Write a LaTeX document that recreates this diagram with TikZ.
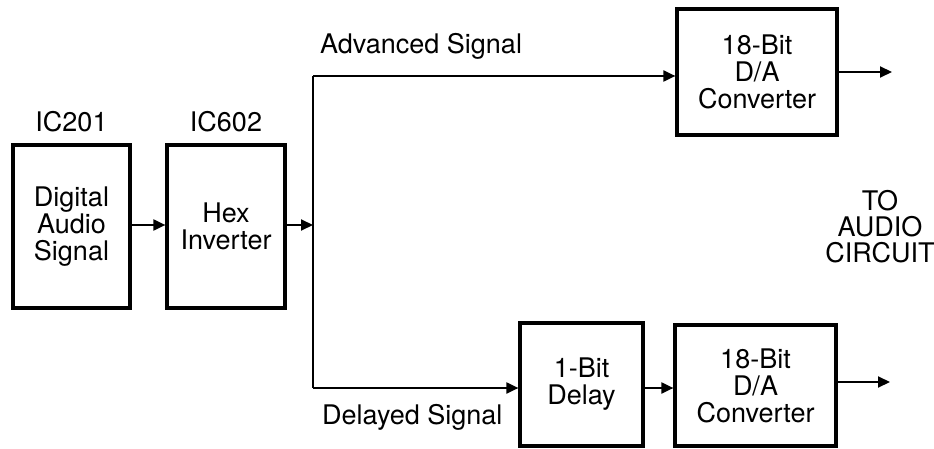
\documentclass[tikz,border=0pt]{standalone}
\usepackage{fontspec}
\setmainfont{TeX Gyre Heros}
\usetikzlibrary{arrows.meta}
\begin{document}
\begin{tikzpicture}[x=1pt,y=-1pt,
  blk/.style={draw,line width=3.2pt,inner sep=0pt,align=center,font=\fontsize{27}{27}\selectfont},
  lbl/.style={inner sep=0pt,align=center,font=\fontsize{27}{26}\selectfont},
  conn/.style={line width=2pt,-{Triangle[length=12pt,width=11pt]}},
  wire/.style={line width=2pt}]
\useasboundingbox (0,0) rectangle (934,449);
\node[blk,minimum width=117pt,minimum height=163pt] (das) at (71.5,226.5) {Digital\\Audio\\Signal};
\node[blk,minimum width=118pt,minimum height=163pt] (hex) at (226,226.5) {Hex\\Inverter};
\node[lbl] (ic201) at (71.5,122) {IC201};
\node[lbl] (ic602) at (226,122) {IC602};
\node[blk,minimum width=160pt,minimum height=126pt] (da1) at (757,72) {18-Bit\\D/A\\Converter};
\node[blk,minimum width=123pt,minimum height=123pt] (dly) at (581.5,384.5) {1-Bit\\Delay};
\node[blk,minimum width=161pt,minimum height=121pt] (da2) at (755.5,385.5) {18-Bit\\D/A\\Converter};
\node[lbl,anchor=west] (adv) at (320,46) {Advanced Signal};
\node[lbl,anchor=west] (del) at (322,417) {Delayed Signal};
\node[lbl] (to) at (880,227) {TO\\AUDIO\\CIRCUIT};
\coordinate (j) at (313,225);
\coordinate (jt) at (313,76);
\coordinate (jb) at (313,388);
\coordinate (o1) at (892,72);
\coordinate (o2) at (890,382);
\draw[conn] (das.east |- 0,225) -- (hex.west |- 0,225);
\draw[conn] (hex.east |- j) -- (j);
\draw[wire] (jt) -- (jb);
\draw[conn] (jt) -- (da1.west |- jt);
\draw[conn] (jb) -- (dly.west |- jb);
\draw[conn] (dly.east |- jb) -- (da2.west |- jb);
\draw[conn] (da1.east |- o1) -- (o1);
\draw[conn] (da2.east |- o2) -- (o2);
\end{tikzpicture}
\end{document}
